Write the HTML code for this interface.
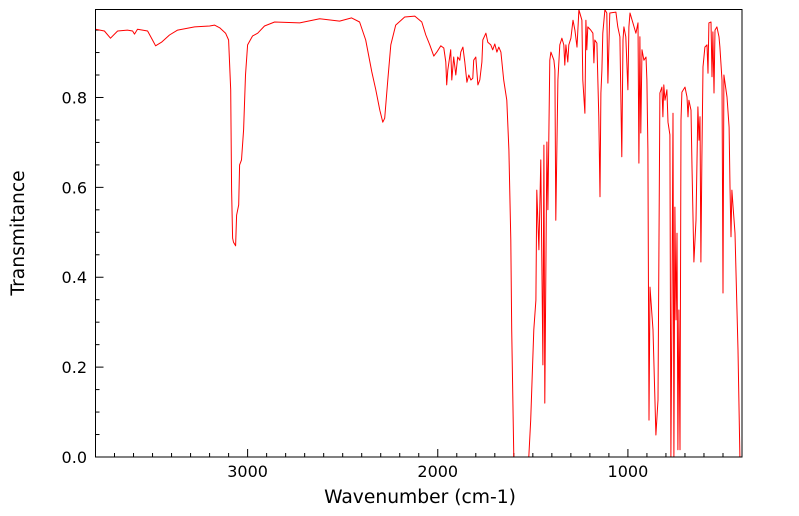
<!DOCTYPE html>
<html><head><meta charset="utf-8"><style>
html,body{margin:0;padding:0;background:#fff;}
svg{display:block;font-family:"DejaVu Sans","Liberation Sans",sans-serif;}
</style></head><body>
<svg id="chart" width="799" height="516" viewBox="0 0 799 516"></svg>
<script>
const wavenumbers=[3800,3753,3721,3684,3632,3605,3595,3579,3526,3500,3484,3453,3411,3368,3279,3200,3174,3147,3116,3100,3089,3084,3079,3074,3063,3058,3047,3042,3032,3021,3011,3000,2974,2947,2911,2858,2726,2621,2516,2453,2411,2379,2347,2326,2305,2289,2279,2263,2247,2221,2174,2121,2084,2063,2042,2021,2005,1984,1968,1958,1953,1947,1932,1926,1916,1905,1895,1884,1879,1868,1858,1847,1837,1826,1816,1811,1800,1789,1779,1768,1763,1747,1737,1721,1711,1700,1689,1679,1668,1653,1637,1626,1616,1611,1600,1521,1511,1495,1484,1479,1468,1458,1447,1442,1437,1426,1421,1411,1405,1389,1384,1379,1368,1358,1347,1337,1332,1326,1316,1311,1300,1289,1279,1268,1258,1242,1237,1226,1221,1216,1211,1195,1184,1179,1174,1163,1153,1147,1142,1137,1132,1121,1111,1105,1095,1063,1053,1042,1032,1026,1021,1011,1000,995,989,974,958,947,942,937,932,926,916,905,900,895,889,884,868,853,842,832,821,816,811,805,795,789,779,774,768,763,758,753,747,742,737,732,726,721,716,700,689,684,679,668,663,653,642,632,626,621,616,611,605,595,584,579,574,563,558,553,547,542,532,521,516,505,500,495,479,468,463,458,453,447,437,421,411,400];
const transmittance=[0.952,0.948,0.932,0.948,0.950,0.948,0.941,0.952,0.948,0.928,0.915,0.923,0.939,0.950,0.957,0.959,0.961,0.955,0.943,0.928,0.817,0.594,0.487,0.478,0.470,0.538,0.561,0.650,0.661,0.728,0.850,0.917,0.937,0.943,0.959,0.968,0.966,0.975,0.970,0.977,0.968,0.928,0.857,0.817,0.772,0.745,0.754,0.839,0.917,0.961,0.979,0.981,0.968,0.939,0.917,0.892,0.901,0.915,0.910,0.879,0.828,0.861,0.906,0.839,0.890,0.850,0.890,0.883,0.901,0.912,0.879,0.834,0.850,0.839,0.843,0.883,0.890,0.828,0.839,0.879,0.928,0.943,0.923,0.917,0.906,0.919,0.901,0.912,0.901,0.839,0.794,0.683,0.483,0.283,0,0,0.082,0.283,0.349,0.594,0.461,0.661,0.205,0.694,0.120,0.701,0.550,0.883,0.901,0.883,0.861,0.527,0.839,0.917,0.932,0.917,0.872,0.917,0.879,0.917,0.932,0.972,0.950,0.912,0.995,0.972,0.839,0.765,0.972,0.906,0.957,0.950,0.943,0.877,0.928,0.921,0.757,0.579,0.810,0.861,0.943,0.995,0.988,0.832,0.988,0.990,0.957,0.935,0.668,0.928,0.957,0.935,0.817,0.957,0.988,0.966,0.943,0.966,0.654,0.935,0.721,0.906,0.883,0.890,0.839,0.683,0.082,0.378,0.283,0.049,0.127,0.810,0.823,0.757,0.828,0.794,0.817,0.745,0.717,0,0.349,0.765,0,0.556,0.305,0.498,0.016,0.327,0.016,0.750,0.812,0.823,0.801,0.757,0.794,0.772,0.645,0.434,0.527,0.779,0.705,0.757,0.434,0.668,0.868,0.912,0.917,0.854,0.966,0.968,0.846,0.946,0.810,0.950,0.957,0.935,0.912,0.839,0.365,0.850,0.801,0.734,0.601,0.490,0.594,0.556,0.498,0.238,0,0];
const xTicks=[3000,2000,1000];
const yTicks=[0.0,0.2,0.4,0.6,0.8];

const NS="http://www.w3.org/2000/svg";
const svg=document.getElementById('chart');
const L=95.5,R=742,T=9.5,B=457;
const X0=3800,X1=400;
function xs(w){return L+(X0-w)/(X0-X1)*(R-L);}
function ys(v){return 457-v*449.4;}
function mk(tag,attrs,parent){const e=document.createElementNS(NS,tag);for(const k in attrs)e.setAttribute(k,attrs[k]);(parent||svg).appendChild(e);return e;}

const ticks=mk('g',{});


for(let w=3700;w>=500;w-=100){
  const x=xs(w);const major=(w%1000===0);
  mk('line',{x1:x,x2:x,y1:B,y2:B-(major?8:4),stroke:'#000','stroke-width':1},ticks);
}
for(let k=1;k<20;k++){
  const v=k*0.05;const y=ys(v);if(y<T)continue;
  const major=(k%4===0);
  mk('line',{x1:L,x2:L+(major?8:4),y1:y,y2:y,stroke:'#000','stroke-width':1},ticks);
}
xTicks.forEach(w=>{
  const t=mk('text',{x:xs(w),y:477,'text-anchor':'middle','font-size':16,fill:'#000'});
  
  
  t.textContent=w;
});
yTicks.forEach(v=>{
  const t=mk('text',{x:87,y:ys(v)+6,'text-anchor':'end','font-size':16,fill:'#000'});
  
  
  t.textContent=v.toFixed(1);
});
let d='';
for(let i=0;i<wavenumbers.length;i++){d+=(i?'L':'M')+xs(wavenumbers[i]).toFixed(1)+','+ys(transmittance[i]).toFixed(1);}
const line=mk('path',{d:d,fill:'none',stroke:'#ff0000','stroke-width':1,'stroke-linejoin':'round'});


const frame=mk('rect',{x:L,y:T,width:R-L,height:B-T,fill:'none',stroke:'#000','stroke-width':1});


const xt=mk('text',{x:420,y:503,'text-anchor':'middle','font-size':18.7,fill:'#000'});


xt.textContent='Wavenumber (cm-1)';
const yt=mk('text',{x:0,y:0,'text-anchor':'middle','font-size':18.7,fill:'#000',transform:'translate(24,233) rotate(-90)'});


yt.textContent='Transmitance';
</script>
</body></html>
